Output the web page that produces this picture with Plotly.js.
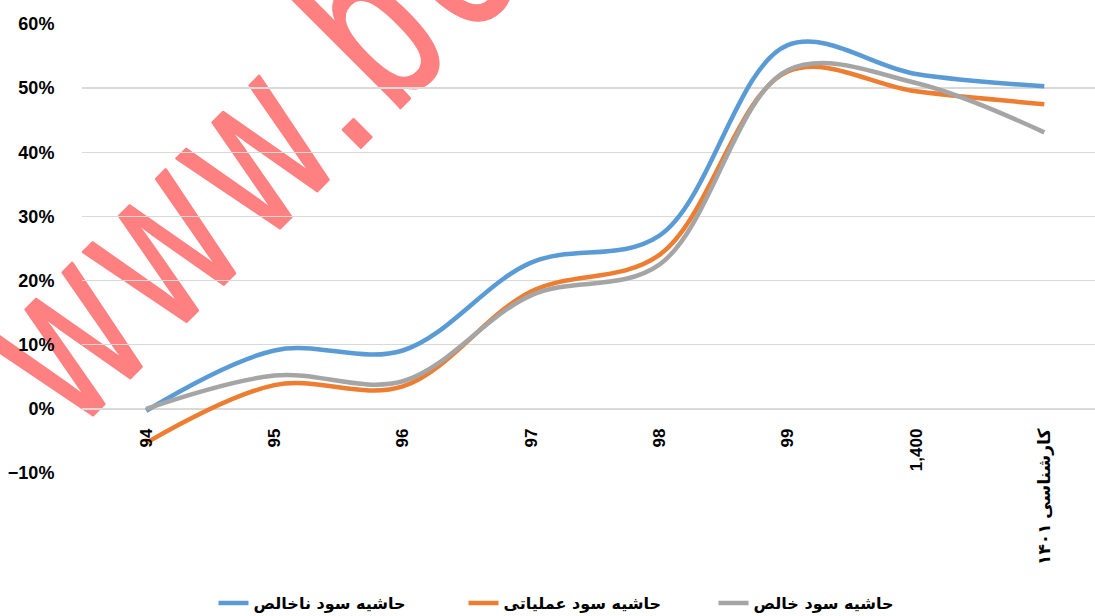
<!DOCTYPE html>
<html>
<head>
<meta charset="utf-8">
<script src="https://cdn.plot.ly/plotly-3.0.1.min.js"></script>
<style>
html,body{margin:0;padding:0;background:#fff;overflow:hidden}
#wrap{position:relative;width:1095px;height:616px}
#wm{position:absolute;left:0;top:0;z-index:0}
#chart{position:absolute;left:0;top:0;width:1095px;height:616px;z-index:1}
</style>
</head>
<body>
<div id="wrap">
<svg id="wm" width="1095" height="616"></svg>
<div id="chart"></div>
</div>
<script>
const categories = ["94", "95", "96", "97", "98", "99", "1,400", "کارشناسی ۱۴۰۱"];
const grossMargin = [-0.003, 0.091, 0.091, 0.228, 0.270, 0.567, 0.522, 0.503];
const operatingMargin = [-0.053, 0.037, 0.035, 0.183, 0.240, 0.526, 0.495, 0.475];
const netMargin = [0.000, 0.052, 0.043, 0.177, 0.225, 0.528, 0.508, 0.431];
const seriesNames = ["حاشیه سود ناخالص", "حاشیه سود عملیاتی", "حاشیه سود خالص"];
const yTickVals = [-0.1, 0, 0.1, 0.2, 0.3, 0.4, 0.5, 0.6];
const watermarkText = "www.bo";

// background watermark (drawn beneath the chart, as real text)
(function () {
  const svg = document.getElementById("wm");
  const t = document.createElementNS("http://www.w3.org/2000/svg", "text");
  t.setAttribute("x", "0");
  t.setAttribute("y", "0");
  t.setAttribute("transform", "translate(76,432) rotate(-45) scale(0.7,1)");
  t.setAttribute("font-family", "Liberation Sans, Arial, sans-serif");
  t.setAttribute("font-size", "231");
  t.setAttribute("letter-spacing", "22");
  t.setAttribute("fill", "#FF8080");
  t.setAttribute("stroke", "#FF8080");
  t.setAttribute("stroke-width", "3");
  t.setAttribute("stroke-linejoin", "round");
  t.textContent = watermarkText;
  svg.appendChild(t);
})();

const colors = ["#5B9BD5", "#ED7D31", "#A5A5A5"];
const values = [grossMargin, operatingMargin, netMargin];
const font = "Liberation Sans, Arial, DejaVu Sans, sans-serif";

const traces = values.map((v, i) => ({
  type: "scatter",
  mode: "lines",
  x: categories,
  y: v,
  name: seriesNames[i],
  line: {color: colors[i], width: 4.5, shape: "spline", smoothing: 1.0},
  hoverinfo: "skip"
}));

const yMin = -0.1, yMax = 0.6;
const layout = {
  width: 1095, height: 616,
  margin: {l: 82, r: 0, t: 24, b: 143, autoexpand: false},
  paper_bgcolor: "rgba(0,0,0,0)", plot_bgcolor: "rgba(0,0,0,0)",
  showlegend: true,
  legend: {
    orientation: "h", x: 0.5, xanchor: "center", y: -0.29, yanchor: "middle",
    font: {family: "DejaVu Sans, sans-serif", size: 16, color: "#000", weight: "bold"},
    entrywidth: 205, bgcolor: "rgba(0,0,0,0)"
  },
  xaxis: {
    type: "category",
    range: [-0.5, 7.395],
    anchor: "free",
    position: (0 - yMin) / (yMax - yMin),
    showgrid: false, zeroline: false, showline: false,
    tickangle: -90,
    ticks: "outside", ticklen: 12, tickcolor: "rgba(0,0,0,0)",
    tickfont: {family: "Liberation Sans, DejaVu Sans, sans-serif", size: 17, color: "#000", weight: "bold"},
    fixedrange: true
  },
  yaxis: {
    range: [yMin, yMax],
    tickvals: yTickVals,
    tickformat: ".0%",
    showgrid: true, gridcolor: "#D9D9D9", gridwidth: 1.5,
    zeroline: false, showline: false,
    ticks: "outside", ticklen: 23, tickcolor: "rgba(0,0,0,0)",
    tickfont: {family: font, size: 18, color: "#000", weight: "bold"},
    fixedrange: true
  }
};

Plotly.newPlot("chart", traces, layout, {displayModeBar: false, staticPlot: true});
</script>
</body>
</html>
